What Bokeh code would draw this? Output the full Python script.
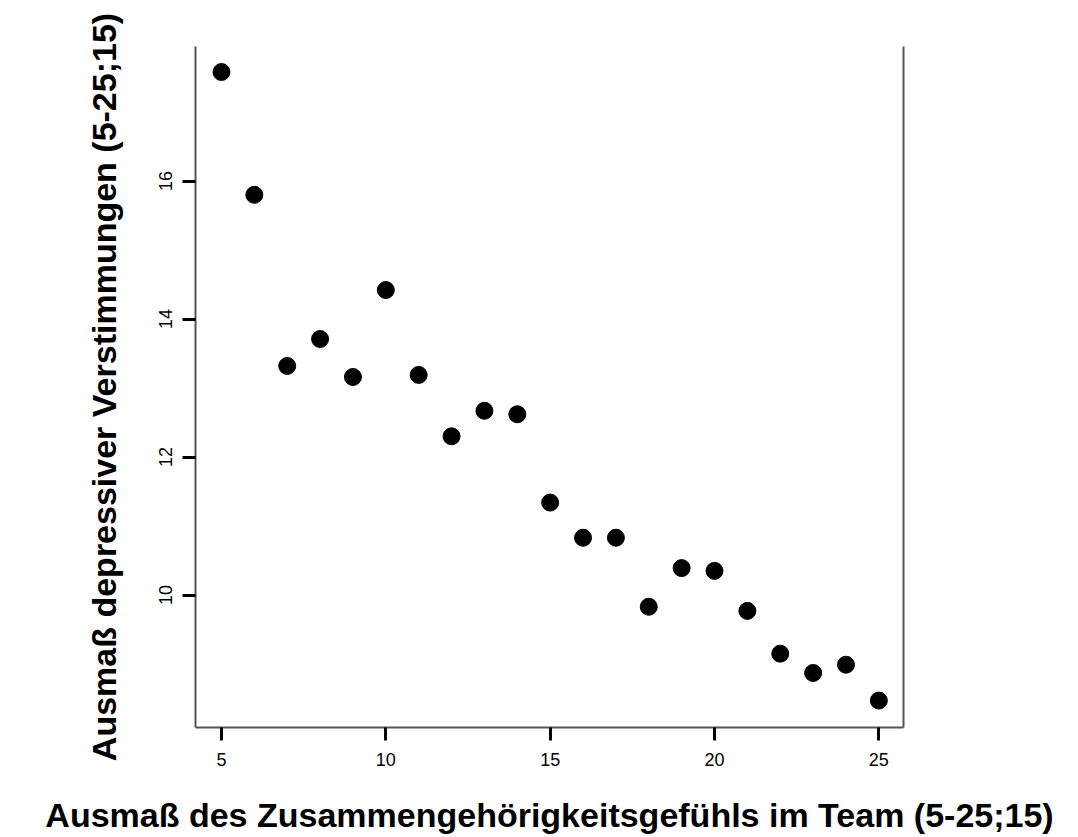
from bokeh.plotting import figure
from bokeh.models import Range1d, FixedTicker, LinearAxis, ColumnDataSource
from bokeh.embed import file_html
from bokeh.resources import INLINE

# data
zusammengehoerigkeit = [5, 6, 7, 8, 9, 10, 11, 12, 13, 14, 15, 16, 17, 18, 19, 20, 21, 22, 23, 24, 25]
depressive_verstimmung = [17.58, 15.80, 13.32, 13.71, 13.16, 14.42, 13.19, 12.30, 12.67, 12.62,
                          11.34, 10.83, 10.83, 9.83, 10.39, 10.35, 9.77, 9.15, 8.87, 8.99, 8.47]
x_ticks = [5, 10, 15, 20, 25]
y_ticks = [10, 12, 14, 16]
x_title = "Ausmaß des Zusammengehörigkeitsgefühls im Team (5-25;15)"
y_title = "Ausmaß depressiver Verstimmungen (5-25;15)"

src = ColumnDataSource(dict(x=zusammengehoerigkeit, y=depressive_verstimmung))

p = figure(width=1078, height=837, output_backend="svg", toolbar_location=None,
           x_range=Range1d(4.21, 25.75), y_range=Range1d(8.08, 17.95),
           min_border_left=195, min_border_right=175, min_border_top=46, min_border_bottom=110)
p.outline_line_color = None
p.grid.visible = False
p.background_fill_color = "white"
p.border_fill_color = "white"

p.scatter("x", "y", source=src, size=17, color="black")

tick_font = "Liberation Sans"
for ax in (p.xaxis[0], p.yaxis[0]):
    ax.axis_line_color = "#555555"
    ax.axis_line_width = 2
    ax.major_tick_line_color = "black"
    ax.major_tick_line_width = 3
    ax.major_tick_out = 13
    ax.major_tick_in = 0
    ax.minor_tick_line_color = None
    ax.major_label_text_font = tick_font
    ax.major_label_text_font_size = "18px"
    ax.major_label_text_color = "black"
    ax.axis_label_text_font = "Liberation Sans"
    ax.axis_label_text_font_style = "bold"
    ax.axis_label_text_font_size = "34px"
    ax.axis_label_text_color = "black"

p.xaxis[0].ticker = FixedTicker(ticks=x_ticks)
p.yaxis[0].ticker = FixedTicker(ticks=y_ticks)
p.xaxis[0].axis_label = x_title
p.yaxis[0].axis_label = y_title
p.xaxis[0].major_label_standoff = 12
p.yaxis[0].major_label_standoff = 10
p.yaxis[0].major_label_orientation = "vertical"
p.xaxis[0].axis_label_standoff = 27
p.yaxis[0].axis_label_standoff = 34

right = LinearAxis(ticker=FixedTicker(ticks=[]))
right.axis_line_color = "#555555"
right.axis_line_width = 2
right.major_tick_line_color = None
right.minor_tick_line_color = None
right.major_label_text_color = None
p.add_layout(right, "right")

open("out.html", "w").write(file_html(p, INLINE))
